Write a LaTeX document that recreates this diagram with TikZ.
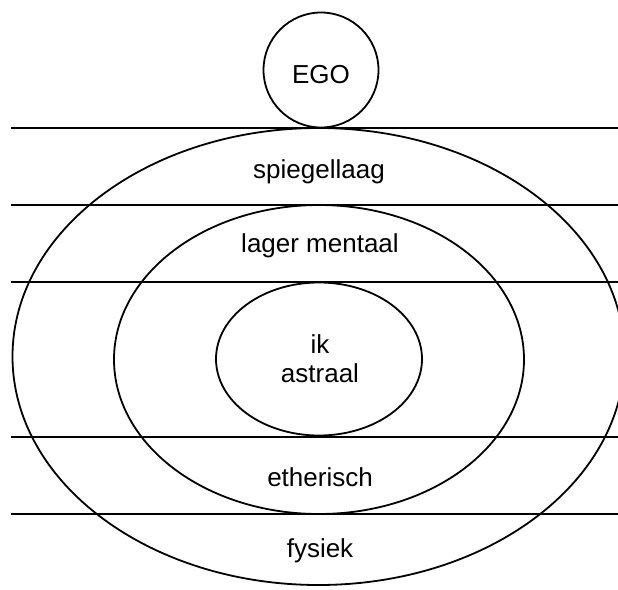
\documentclass[tikz,border=0pt]{standalone}
\usepackage{fontspec}
\setmainfont{Liberation Sans}
\begin{document}
\begin{tikzpicture}[x=1pt,y=-1pt,
  ring/.style={draw=black,line width=1.8pt},
  band/.style={draw=black,line width=1.8pt},
  lbl/.style={font=\fontsize{26}{30}\selectfont,anchor=base,inner sep=0pt}]
\useasboundingbox (0,0) rectangle (618,589);
\clip (0,0) rectangle (618,589);
\fill[white] (0,0) rectangle (618,589);
% horizontal bands
\foreach \yy in {128,205,282,437,514}{
  \draw[band] (11,\yy) -- (620,\yy);
}
% ellipses
\draw[ring] (318.5,356.5) ellipse [x radius=306, y radius=228.5];
\draw[ring] (319,359.5) ellipse [x radius=205, y radius=154.5];
\draw[ring] (319,359) ellipse [x radius=103, y radius=76.5];
% ego circle
\node[ring,circle,minimum size=115pt,inner sep=0pt,fill=white] (egoc) at (321,70) {};
\node[lbl] (ego) at (321,83) {EGO};
\node[lbl] (spiegel) at (319,178) {spiegellaag};
\node[lbl] (mentaal) at (320,252) {lager mentaal};
\node[lbl] (ik) at (320,353) {ik};
\node[lbl] (astraal) at (320,382) {astraal};
\node[lbl] (etherisch) at (320,486) {etherisch};
\node[lbl] (fysiek) at (320,557) {fysiek};
\end{tikzpicture}
\end{document}
